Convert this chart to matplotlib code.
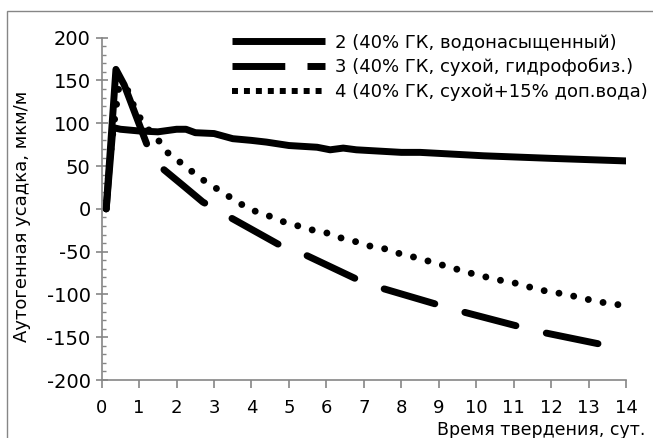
import matplotlib
matplotlib.use('Agg')
import matplotlib.pyplot as plt
from matplotlib.patches import Rectangle
from matplotlib.lines import Line2D
from matplotlib.ticker import MultipleLocator

# series 2: water-saturated
x2 = [0.12, 0.3, 0.5, 1.0, 1.5, 2.0, 2.25, 2.5, 3.0, 3.5, 4.0, 4.4, 5.0, 5.75,
      6.1, 6.45, 6.8, 8.0, 8.5, 10.2, 12.0, 14.0]
y2 = [0, 95, 93, 91, 90, 93, 93, 89, 88, 82, 80, 78, 74, 72,
      69, 71, 69, 66, 66, 62, 59, 56]

# series 3: dry, hydrophobised
x3 = [0.12, 0.38, 0.6, 1.2, 1.6, 2.18, 2.7, 3.43, 4.7, 5.4, 6.8, 7.5, 8.9,
      9.7, 11.1, 11.85, 13.3]
y3 = [0, 163, 145, 76, 48, 27, 8, -10, -41, -53, -82, -93, -111,
      -121, -137, -145, -158]

# series 4: dry + 15% extra water
x4 = [0.12, 0.2, 0.3, 0.45, 0.65, 0.75, 1.0, 1.2, 1.5, 1.75, 2.05, 2.4, 2.7,
      3.7, 4.05, 4.45, 4.85, 5.25, 5.65, 6.1, 6.45, 6.85, 7.2, 7.6, 8.0,
      8.4, 8.8, 9.2, 9.6, 10.0, 10.4, 10.8, 11.2, 11.6, 12.0, 12.4, 12.8,
      13.2, 13.6, 14.0]
y4 = [0, 50, 90, 140, 145, 130, 108, 95, 81, 66, 56, 44, 34,
      6, -2, -8, -15, -20, -25, -29, -35, -39, -44, -47, -53,
      -57, -62, -67, -72, -77, -81, -85, -88, -94, -97, -100, -104,
      -108, -111, -113]

labels = ['2 (40% ГК, водонасыщенный)',
          '3 (40% ГК, сухой, гидрофобиз.)',
          '4 (40% ГК, сухой+15% доп.вода)']

yticks = [-200, -150, -100, -50, 0, 50, 100, 150, 200]
xticks = list(range(0, 15))

plt.rcParams['font.family'] = ['DejaVu Sans']
plt.rcParams['lines.scale_dashes'] = False
plt.rcParams['axes.unicode_minus'] = False

W, H = 653, 438
fig = plt.figure(figsize=(W / 100, H / 100), dpi=100)
ax = fig.add_axes([101.7 / W, 1 - 380 / H, (626 - 101.7) / W, (380 - 37.7) / H])

lw = 5
on, off = 38.0, 22.5

ax.plot(x2, y2, color='black', lw=lw, solid_capstyle='round',
        solid_joinstyle='round')
# first part of series 3 looks continuous in the source
n = 4
ax.plot(x3[:n], y3[:n], color='black', lw=lw, solid_capstyle='round',
        solid_joinstyle='round')
ax.plot(x3[n - 1:], y3[n - 1:], color='black', lw=lw,
        linestyle=(on, (on, off)), dash_capstyle='round')
ax.plot(x4, y4, color='black', lw=lw, linestyle=(0, (0.01, 10.8)),
        dash_capstyle='round')

ax.set_xlim(0, 14)
ax.set_ylim(-200, 200)
ax.set_xticks(xticks)
ax.set_yticks(yticks)
ax.yaxis.set_minor_locator(MultipleLocator(10))

gray = '#868686'
for s in ['top', 'right']:
    ax.spines[s].set_visible(False)
for s in ['left', 'bottom']:
    ax.spines[s].set_color(gray)
    ax.spines[s].set_linewidth(1.2)

ax.tick_params(axis='y', which='major', direction='inout', length=8,
               width=1.2, color=gray, labelsize=14, pad=4)
ax.tick_params(axis='y', which='minor', direction='in', length=3,
               width=1.0, color=gray)
ax.tick_params(axis='x', which='major', direction='out', length=6,
               width=1.2, color=gray, labelsize=13, pad=8)

# legend keys drawn like the source (square ends)
handles = [
    Line2D([], [], color='black', lw=5, solid_capstyle='butt'),
    Line2D([], [], color='black', lw=5, linestyle=(0, (38, 16)),
           dash_capstyle='butt'),
    Line2D([], [], color='black', lw=4.3, linestyle=(0, (4.3, 4.3)),
           dash_capstyle='butt'),
]
leg = ax.legend(handles, labels, loc='upper left',
                bbox_to_anchor=(232 / W, 1 - 33 / H),
                bbox_transform=fig.transFigure, frameon=False, fontsize=13,
                borderpad=0, borderaxespad=0, handlelength=5.15,
                handletextpad=0.55, labelspacing=0.38)

fig.text(22 / W, 1 - 216.5 / H, 'Аутогенная усадка, мкм/м', rotation=90,
         ha='center', va='center', fontsize=13)
fig.text(645 / W, 1 - 421 / H, 'Время твердения, сут.', ha='right', va='top',
         fontsize=12.5)

fig.add_artist(Rectangle((7 / W, -0.5), 1.0, 1.5 - 11 / H,
                         transform=fig.transFigure, fill=False,
                         edgecolor=gray, lw=1))

fig.savefig('out.png', dpi=100)
